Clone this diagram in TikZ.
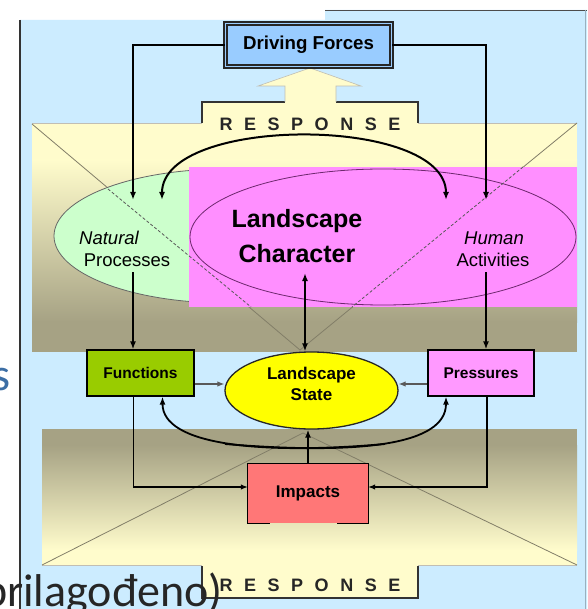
\documentclass[tikz,border=0pt]{standalone}
\usepackage{fontspec}
\setmainfont{Liberation Sans}
\newfontfamily\slidefont{Carlito}
\usepackage{tikz}
\usetikzlibrary{arrows.meta,shapes.geometric}
\definecolor{panelblue}{RGB}{204,236,255}
\definecolor{bandyellow}{RGB}{255,252,204}
\definecolor{bandkhaki}{RGB}{166,162,132}
\definecolor{charpink}{RGB}{255,143,255}
\definecolor{charline}{RGB}{110,40,110}
\definecolor{natgreen}{RGB}{204,255,204}
\definecolor{forceblue}{RGB}{153,204,255}
\definecolor{funcgreen}{RGB}{153,204,0}
\definecolor{presspink}{RGB}{255,153,255}
\definecolor{stateyellow}{RGB}{255,255,0}
\definecolor{impactred}{RGB}{255,119,119}
\definecolor{envgray}{RGB}{130,126,104}
\definecolor{slideblue}{RGB}{60,110,165}

\newcommand{\respword}{R\kern11.5pt E\kern11.5pt S\kern11.5pt P\kern11.5pt O\kern11.5pt N\kern11.5pt S\kern11.5pt E}

\begin{document}
\begin{tikzpicture}[x=1pt, y=-1pt,
    box/.style={draw=black, line width=1.2pt, minimum height=46pt, font=\fontsize{15.5}{17}\selectfont\bfseries},
    arrow/.style={-{Latex[length=8pt,width=6pt]}, line width=1.8pt},
    dblarrow/.style={{Latex[length=8pt,width=6pt]}-{Latex[length=8pt,width=6pt]}, line width=1.8pt},
    thinarrow/.style={-{Latex[length=7pt,width=5.5pt]}, line width=1.2pt},
    envline/.style={envgray, line width=0.8pt},
    txt/.style={font=\fontsize{18.5}{20}\selectfont},
    resp/.style={font=\fontsize{18}{20}\selectfont\bfseries, text=black!85}
]
\useasboundingbox (0,0) rectangle (587,609);
\clip (0,0) rectangle (587,609);
% slide panel
\fill[white] (0,0) rectangle (587,609);
\fill[panelblue] (20,20) -- (325,20) -- (325,10) -- (587,10) -- (587,609) -- (20,609) -- cycle;
\draw[black!70, line width=1.2pt] (325,10.5) -- (587,10.5);
\draw[black!80, line width=2pt] (20,20) -- (20,609);
\draw[black!25!panelblue, line width=1pt] (585.5,10) -- (585.5,609);

% upper band
\fill[bandyellow] (32,123) rectangle (577,352);
\shade[top color=bandyellow, bottom color=bandkhaki] (32,160) rectangle (577,322);
\fill[bandkhaki] (32,321) rectangle (577,352);
\fill[bandyellow] (202,124) rectangle (418,102);
\draw[envgray!50, line width=0.6pt] (32,123) -- (202,123) (418,123) -- (577,123);
\draw[black!80, line width=1.3pt] (202,123) -- (202,102) -- (285,102) (336,102) -- (418,102) -- (418,123);
\filldraw[fill=bandyellow, draw=envgray!50, line width=0.6pt] (285,102) -- (285,86) -- (258,86) -- (310,68) -- (361,86) -- (336,86) -- (336,102);
\node[resp] (resptop) at (310,124) {\respword};

% lower band
\fill[bandyellow] (42,429) rectangle (577,566);
\shade[top color=bandkhaki, bottom color=bandyellow] (42,445) rectangle (577,550);
\fill[bandkhaki] (42,429) rectangle (577,446);
\fill[bandyellow] (202,565) rectangle (418,598);
\draw[envgray!50, line width=0.6pt] (42,565.5) -- (202,565.5) (418,565.5) -- (577,565.5);
\draw[black!80, line width=1.3pt] (202,566) -- (202,598) -- (418,598) -- (418,566);
\node[resp] (respbot) at (310,585) {\respword};

% envelope lines
\draw[envline] (32,124) -- (300,350) -- (577,123);
\draw[envline] (42,565) -- (303,433) -- (577,565);

% character area
\draw[fill=natgreen, draw=black!60, line width=0.8pt] (226,236) ellipse [x radius=172, y radius=67];
\fill[charpink] (189,167) rectangle (577,307);
\draw[charline, line width=0.8pt] (383,237) ellipse [x radius=193, y radius=68];
\draw[black!65, line width=0.8pt, dash pattern=on 3pt off 2pt] (108,189) -- (251,307);
\draw[black!65, line width=0.8pt, dash pattern=on 3pt off 2pt] (523,167) -- (352,307);

\node[font=\fontsize{25}{35}\selectfont\bfseries, align=center] (chartxt) at (297,236) {Landscape\\Character};
\node[txt] (natA) at (109,238) {\itshape Natural};
\node[txt] (natB) at (127,260) {Processes};
\node[txt] (humA) at (494,238) {\itshape Human};
\node[txt] (humB) at (493,260) {Activities};

% nodes
\node[draw=black!85, line width=1.2pt, double=forceblue, double distance=1.8pt, fill=forceblue, minimum width=166pt, minimum height=43pt, font=\fontsize{18.7}{20}\selectfont\bfseries] (driving) at (308.5,45) {Driving Forces};
\node[box, fill=funcgreen, minimum width=107pt] (functions) at (140.5,373) {Functions};
\node[box, fill=presspink, minimum width=106pt] (pressures) at (481,373) {Pressures};
\node[ellipse, draw=black!85, line width=1.3pt, fill=stateyellow, minimum width=173pt, minimum height=77pt] (state) at (311.5,390.5) {};
\node[font=\fontsize{17}{21}\selectfont\bfseries, align=center] (statetxt) at ([yshift=7pt]state.center) {Landscape\\State};
\node[fill=impactred, minimum width=120pt, minimum height=59pt, font=\fontsize{17}{19}\selectfont\bfseries] (impacts) at (308,493.5) {Impacts};
\draw[line width=1.3pt] ([xshift=22pt]impacts.south west) -| (impacts.north west) -- (impacts.north east) |- ([xshift=-31pt]impacts.south east);

% connectors
\coordinate (natin) at (133,200);
\coordinate (natcurve) at (162,200);
\coordinate (humcurve) at (446,200);
\coordinate (humin) at (486,200);
\coordinate (natout) at (133,272);
\coordinate (humout) at (486,272);
\coordinate (charout) at (305,273);
\coordinate (lowright) at (385,444);
\coordinate (lowleft) at (225,444);

\draw[arrow, line width=1.6pt] (driving.west) -| (natin);
\draw[arrow, line width=1.6pt] (driving.east) -| (humin);
\draw[dblarrow, line width=2pt] (natcurve) .. controls (162,115) and (446,115) .. (humcurve);
\draw[arrow] (natout) -- (natout |- functions.north);
\draw[arrow] (humout) -- (humout |- pressures.north);
\draw[dblarrow] (charout) -- (charout |- state.north);
\draw[thinarrow, black!65] ([yshift=-11pt]functions.east) -- ([yshift=6.5pt]state.west);
\draw[thinarrow, black!65] ([yshift=-11pt]pressures.west) -- ([yshift=6.5pt]state.east);
\draw[arrow] (impacts.north) -- (impacts.north |- state.south);
\draw[arrow] (lowright) .. controls (260,455) and (162.5,445) .. ([xshift=22pt]functions.south);
\draw[arrow] (lowleft) .. controls (360,455) and (446,445) .. ([xshift=-35pt]pressures.south);
\draw[thinarrow] ([xshift=-7pt]functions.south) |- ([yshift=6.5pt]impacts.west);
\draw[thinarrow] ([xshift=6pt]pressures.south) |- ([yshift=6.5pt]impacts.east);

% slide fragments
\node[font=\slidefont\fontsize{46}{50}\selectfont, text=slideblue, anchor=base east, inner sep=0pt] (slides) at (11,390) {s};
\node[font=\slidefont\fontsize{46}{50}\selectfont, text=black!85, anchor=base east, inner sep=0pt] (credit) at (223,606) {prilagođeno)};
\end{tikzpicture}
\end{document}
